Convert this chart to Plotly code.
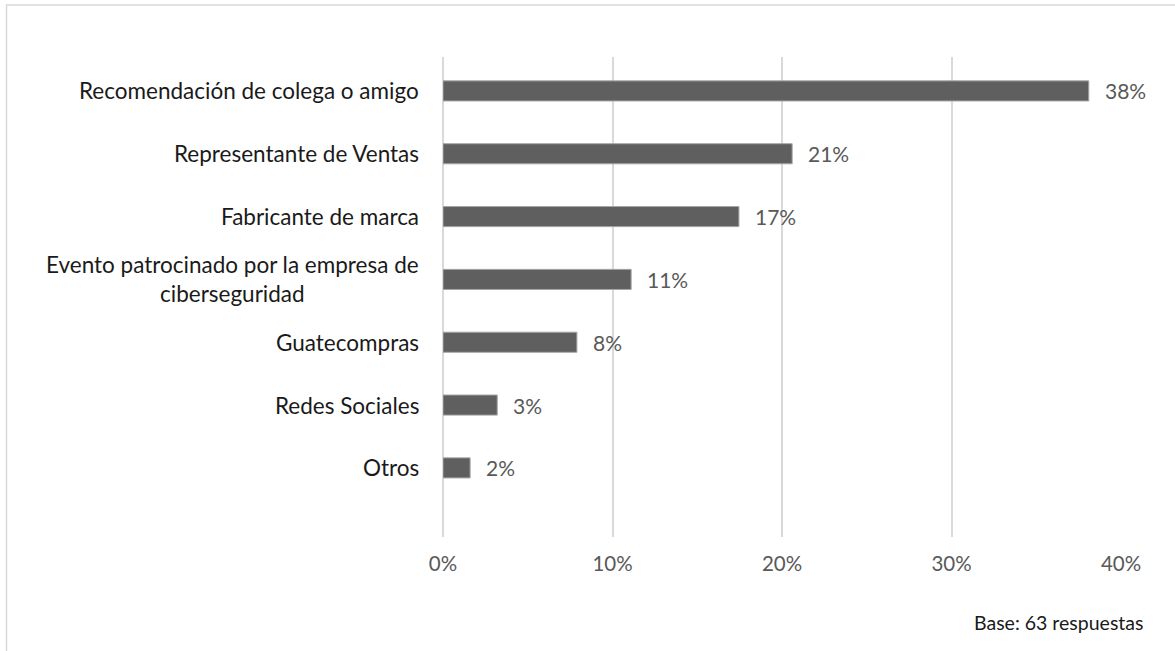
import plotly.graph_objects as go

# Survey: how respondents found their cybersecurity provider
categories = [
    "Recomendación de colega o amigo",
    "Representante de Ventas",
    "Fabricante de marca",
    "Evento patrocinado por la empresa de<br>ciberseguridad",
    "Guatecompras",
    "Redes Sociales",
    "Otros",
]
shares = [0.381, 0.206, 0.1746, 0.111, 0.079, 0.032, 0.016]
x_ticks = [0, 0.1, 0.2, 0.3, 0.4]
x_ticklabels = ["0%", "10%", "20%", "30%", "40%"]
base_note = "Base: 63 respuestas"

FONT = "Lato, Carlito, sans-serif"
W, H = 1175, 651
M_L, M_R, M_T, M_B = 443, 54, 57, 114
plot_w = W - M_L - M_R
plot_h = H - M_T - M_B


def px_to_paper_x(px):
    return (px - M_L) / plot_w


def px_to_paper_y(py):
    return (H - M_B - py) / plot_h


fig = go.Figure()
fig.add_trace(
    go.Bar(
        x=shares,
        y=categories,
        orientation="h",
        width=0.32,
        marker=dict(color="#5f5f5f", line=dict(color="#a6a6a6", width=1)),
        hoverinfo="x+y",
    )
)

annotations = []
# category labels, centred line by line, right edge just left of the axis
for cat in categories:
    annotations.append(
        dict(
            x=px_to_paper_x(421), xref="paper", xanchor="right",
            y=cat, yref="y", yanchor="middle",
            text=cat, align="center", showarrow=False,
            font=dict(family=FONT, size=22.5, color="#1a1a1a"),
        )
    )
# value labels at the end of each bar
for cat, v in zip(categories, shares):
    annotations.append(
        dict(
            x=v, xref="x", xanchor="left", xshift=14,
            y=cat, yref="y", yanchor="middle",
            text=f"{v:.0%}", showarrow=False,
            font=dict(family=FONT, size=21, color="#595959"),
        )
    )
annotations.append(
    dict(
        x=px_to_paper_x(1145), xref="paper", xanchor="right",
        y=px_to_paper_y(622), yref="paper", yanchor="middle",
        text=base_note, showarrow=False,
        font=dict(family=FONT, size=19.5, color="#1a1a1a"),
    )
)

# outer chart frame (left and top edges visible)
shapes = [
    dict(
        type="rect", xref="paper", yref="paper",
        x0=px_to_paper_x(6.5), x1=px_to_paper_x(1190),
        y0=px_to_paper_y(700), y1=px_to_paper_y(5),
        line=dict(color="#d9d9d9", width=1.5), fillcolor="rgba(0,0,0,0)",
        layer="below",
    )
]

fig.update_layout(
    width=W, height=H,
    margin=dict(l=M_L, r=M_R, t=M_T, b=M_B),
    paper_bgcolor="white", plot_bgcolor="white",
    showlegend=False,
    annotations=annotations,
    shapes=shapes,
    xaxis=dict(
        range=[0, 0.4],
        tickvals=x_ticks, ticktext=x_ticklabels,
        showgrid=True, gridcolor="#d9d9d9", gridwidth=1.5,
        zeroline=True, zerolinecolor="#d9d9d9", zerolinewidth=1.5,
        showline=False, ticks="",
        ticklabelstandoff=12,
        tickfont=dict(family=FONT, size=20.5, color="#595959"),
        fixedrange=True,
    ),
    yaxis=dict(
        categoryorder="array", categoryarray=categories,
        range=[7.1, -0.54],
        showticklabels=False, showgrid=False, zeroline=False,
        showline=False, ticks="", fixedrange=True,
    ),
)

fig.write_html("out.html")
